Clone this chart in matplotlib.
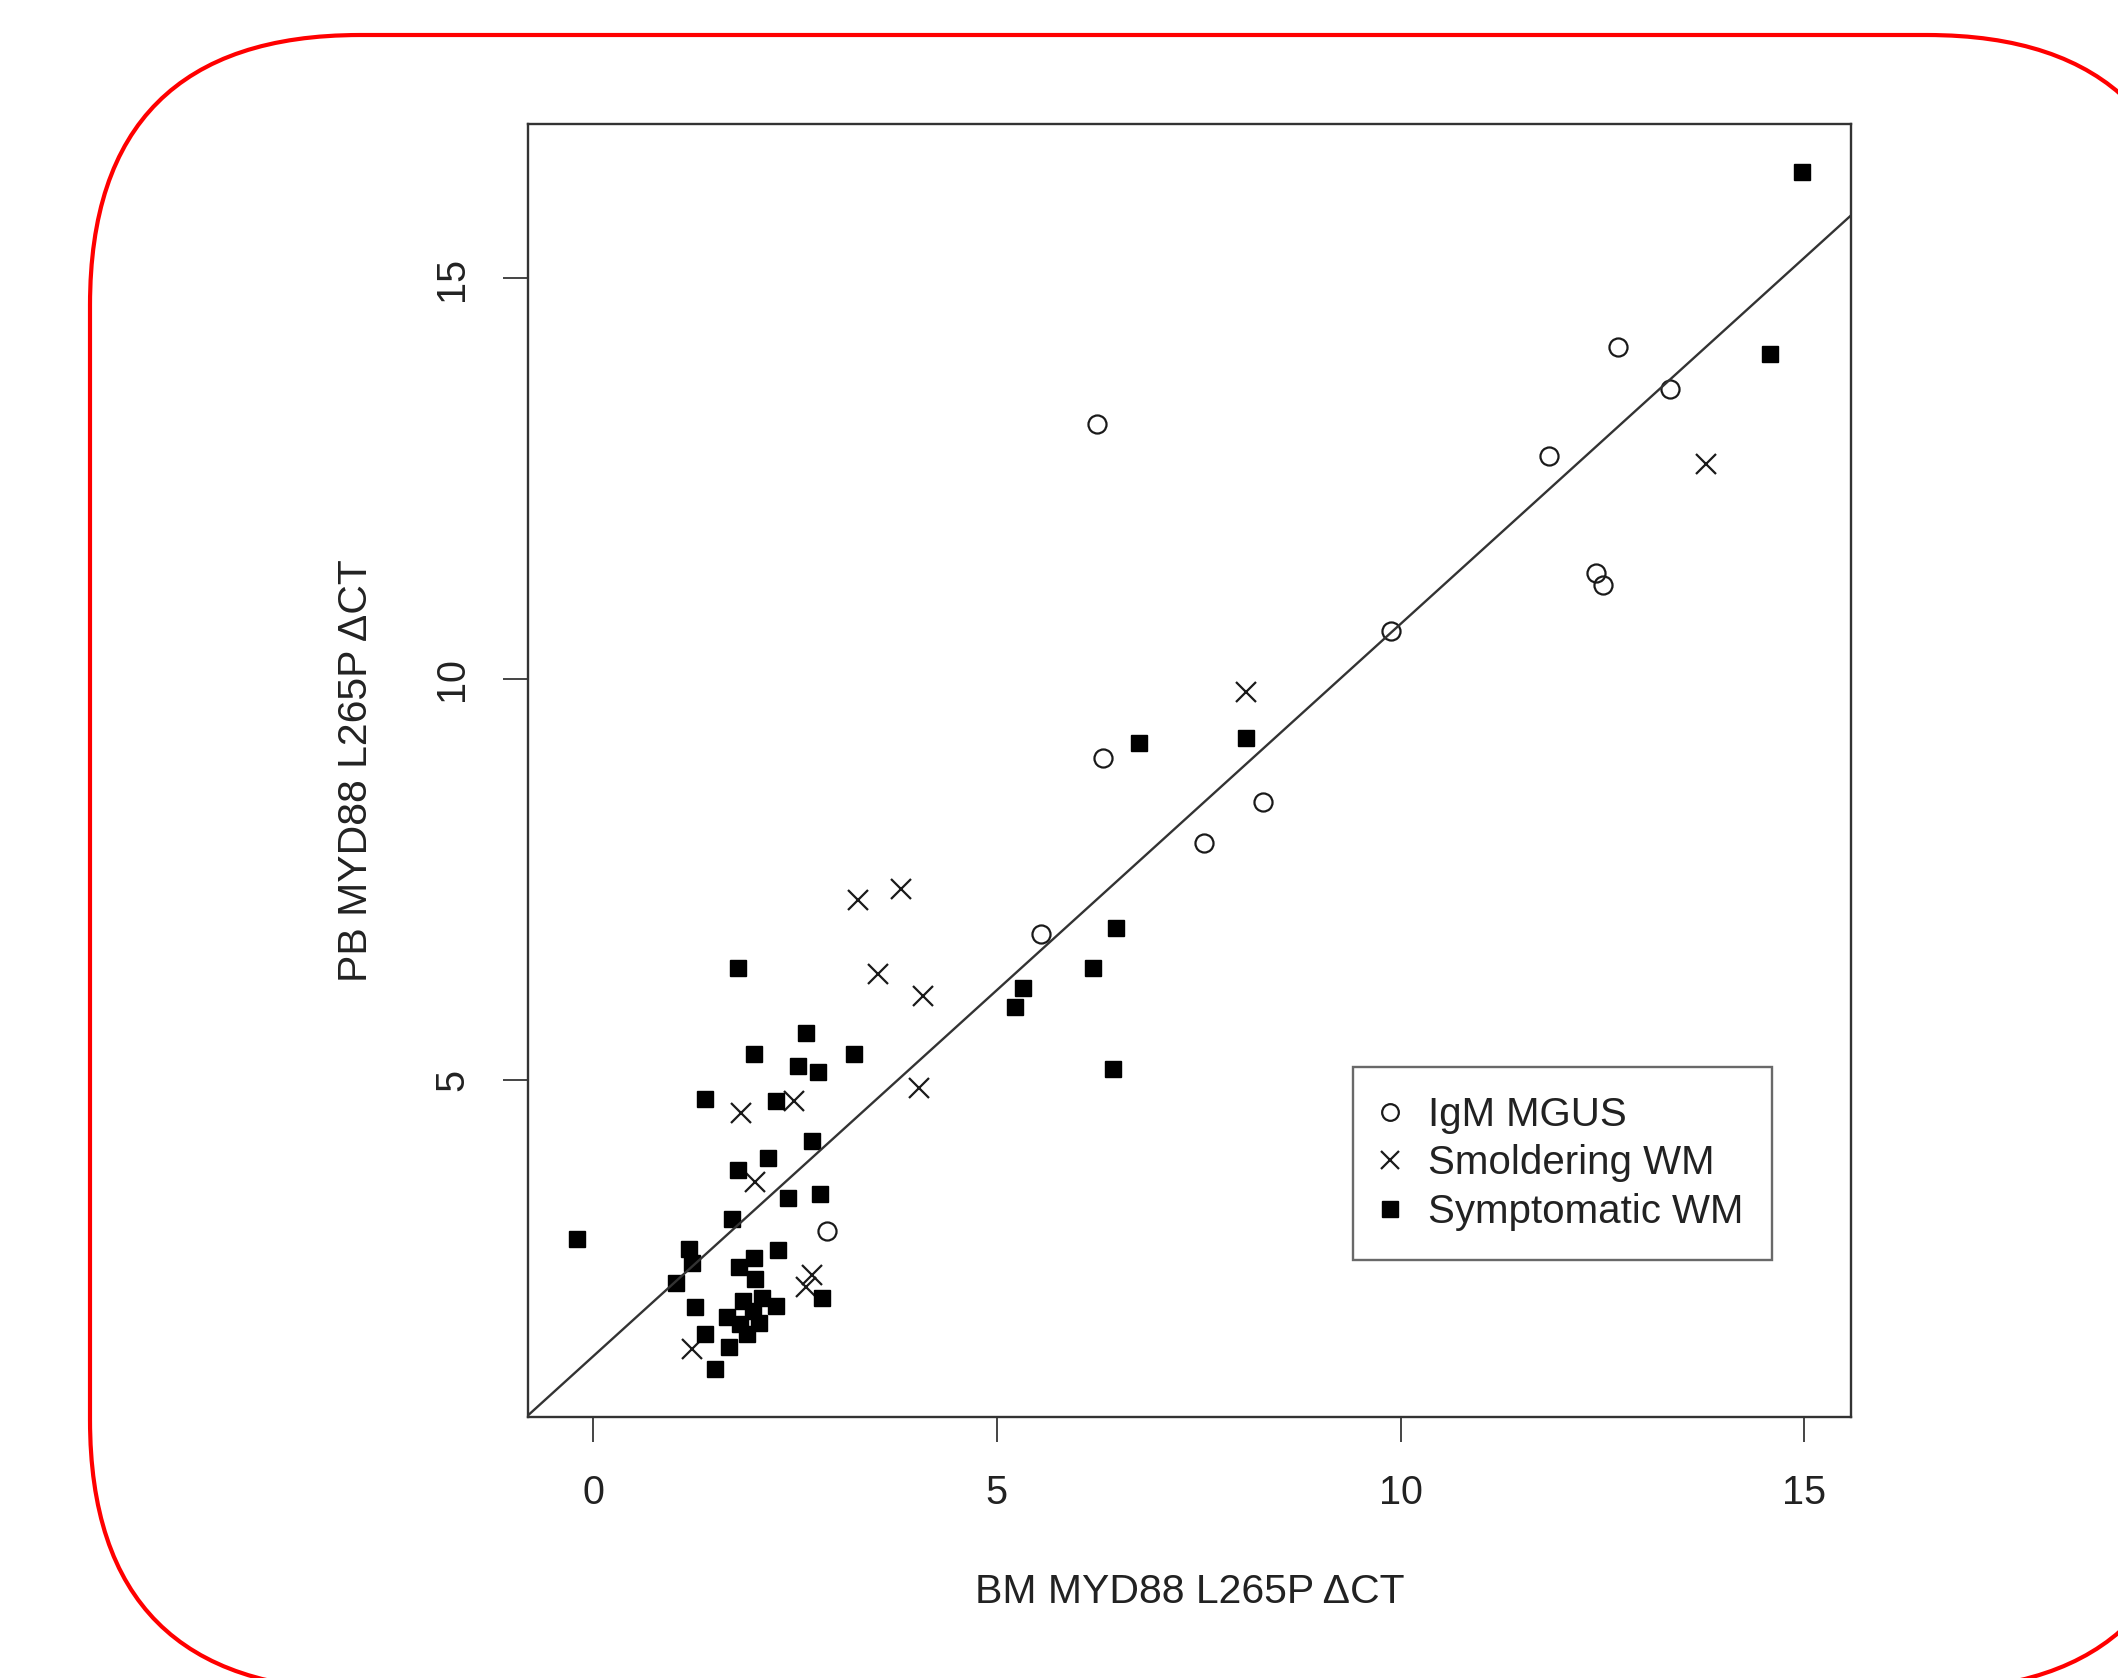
import matplotlib
matplotlib.use("Agg")
import matplotlib.pyplot as plt
from matplotlib.patches import FancyBboxPatch
from matplotlib.lines import Line2D

plt.rcParams["font.family"] = ["Liberation Sans", "DejaVu Sans"]

# IgM MGUS (open circles)
mgus_bm = [6.24, 12.69, 13.33, 11.84, 12.42, 12.51, 9.88, 6.32, 8.29, 7.56, 5.54, 2.89]
mgus_pb = [13.18, 14.14, 13.62, 12.79, 11.32, 11.17, 10.60, 9.01, 8.47, 7.95, 6.82, 3.11]

# Smoldering WM (crosses)
smol_bm = [13.78, 8.08, 3.28, 3.81, 3.53, 4.08, 4.03, 1.83, 2.49, 2.01, 2.71, 2.63, 1.23]
smol_pb = [12.69, 9.84, 7.24, 7.38, 6.32, 6.05, 4.90, 4.58, 4.74, 3.72, 2.56, 2.42, 1.64]

# Symptomatic WM (filled squares)
symp_bm = [14.97, 14.57, 6.76, 8.09, 6.47, 6.19, 5.32, 5.23, 6.44,
           1.79, 2.63, 1.99, 3.23, 2.54, 2.79, 1.39, 2.27, 2.71, 2.17, 1.79,
           2.41, 2.81, 1.72, -0.20, 1.19, 1.22, 2.29, 1.99, 1.81, 2.00, 1.03,
           2.84, 1.26, 2.27, 1.86, 2.09, 1.66, 1.82, 2.05, 1.90, 1.98, 1.39,
           1.68, 1.51]
symp_pb = [16.33, 14.06, 9.20, 9.27, 6.89, 6.40, 6.15, 5.91, 5.13,
           6.40, 5.59, 5.32, 5.32, 5.17, 5.10, 4.76, 4.73, 4.24, 4.02, 3.87,
           3.53, 3.58, 3.26, 3.01, 2.89, 2.72, 2.88, 2.78, 2.66, 2.51, 2.46,
           2.28, 2.17, 2.18, 2.24, 2.28, 2.04, 1.95, 1.97, 1.83, 2.12, 1.83,
           1.66, 1.39]

# fitted line (PB ~ BM)
fit_intercept = 1.55
fit_slope = 0.914

x_ticks = [0, 5, 10, 15]
y_ticks = [5, 10, 15]
x_label = "BM MYD88 L265P \u0394CT"
y_label = "PB MYD88 L265P \u0394CT"
legend_labels = ["IgM MGUS", "Smoldering WM", "Symptomatic WM"]

W, H = 2118, 1678
fig = plt.figure(figsize=(W / 100, H / 100), dpi=100)

# red rounded frame around the figure (pixel coords)
bg = fig.add_axes([0, 0, 1, 1], zorder=0)
bg.set_xlim(0, W)
bg.set_ylim(H, 0)
bg.axis("off")
bg.add_patch(FancyBboxPatch((90, 35), 2197 - 90, 1690 - 35,
                            boxstyle="round,pad=0,rounding_size=270",
                            facecolor="white", edgecolor="#ff0000", linewidth=3))

ax = fig.add_axes([528 / W, 1 - 1417 / H, (1851 - 528) / W, (1417 - 124) / H], zorder=1)
ax.set_facecolor("none")

ink = "#1a1a1a"
ax.plot(mgus_bm, mgus_pb, linestyle="none", marker="o", markersize=13,
        markerfacecolor="none", markeredgecolor=ink, markeredgewidth=1.6)
ax.plot(smol_bm, smol_pb, linestyle="none", marker="x", markersize=14,
        markeredgecolor=ink, markeredgewidth=1.6)
ax.plot(symp_bm, symp_pb, linestyle="none", marker="s", markersize=12,
        markerfacecolor="black", markeredgecolor="black", markeredgewidth=1)

ax.axline((0, fit_intercept), slope=fit_slope, color="#333333", linewidth=1.7)

xr = max(symp_bm) - min(symp_bm)
yr = max(symp_pb) - min(symp_pb)
ax.set_xlim(min(symp_bm) - 0.04 * xr, max(symp_bm) + 0.04 * xr)
ax.set_ylim(min(symp_pb) - 0.04 * yr, max(symp_pb) + 0.04 * yr)

ax.set_xticks(x_ticks)
ax.set_yticks(y_ticks)
ax.set_yticklabels([str(t) for t in y_ticks], rotation=90, va="center")
ax.tick_params(axis="both", direction="out", length=18, width=1.4,
               color="#444444", labelsize=28.5, labelcolor="#222222", pad=23)
for s in ax.spines.values():
    s.set_color("#333333")
    s.set_linewidth(1.7)

ax.set_xlabel(x_label, fontsize=29.5, color="#222222", labelpad=44)
ax.set_ylabel(y_label, fontsize=29.5, color="#222222", labelpad=42)

handles = [
    Line2D([], [], linestyle="none", marker="o", markersize=12, markerfacecolor="none",
           markeredgecolor=ink, markeredgewidth=1.6),
    Line2D([], [], linestyle="none", marker="x", markersize=13, markeredgecolor=ink,
           markeredgewidth=1.6),
    Line2D([], [], linestyle="none", marker="s", markersize=11, markerfacecolor="black",
           markeredgecolor="black"),
]
leg = ax.legend(handles, legend_labels, loc="upper left",
                bbox_to_anchor=(1353 / W, 1 - 1067 / H), bbox_transform=fig.transFigure,
                fontsize=29, frameon=True, fancybox=False, edgecolor="#444444",
                handlelength=0.4, handletextpad=0.74, labelspacing=0.26,
                borderpad=0.72, borderaxespad=0, labelcolor="#222222")
leg.get_frame().set_linewidth(1.7)

fig.savefig("out.png", dpi=100)
